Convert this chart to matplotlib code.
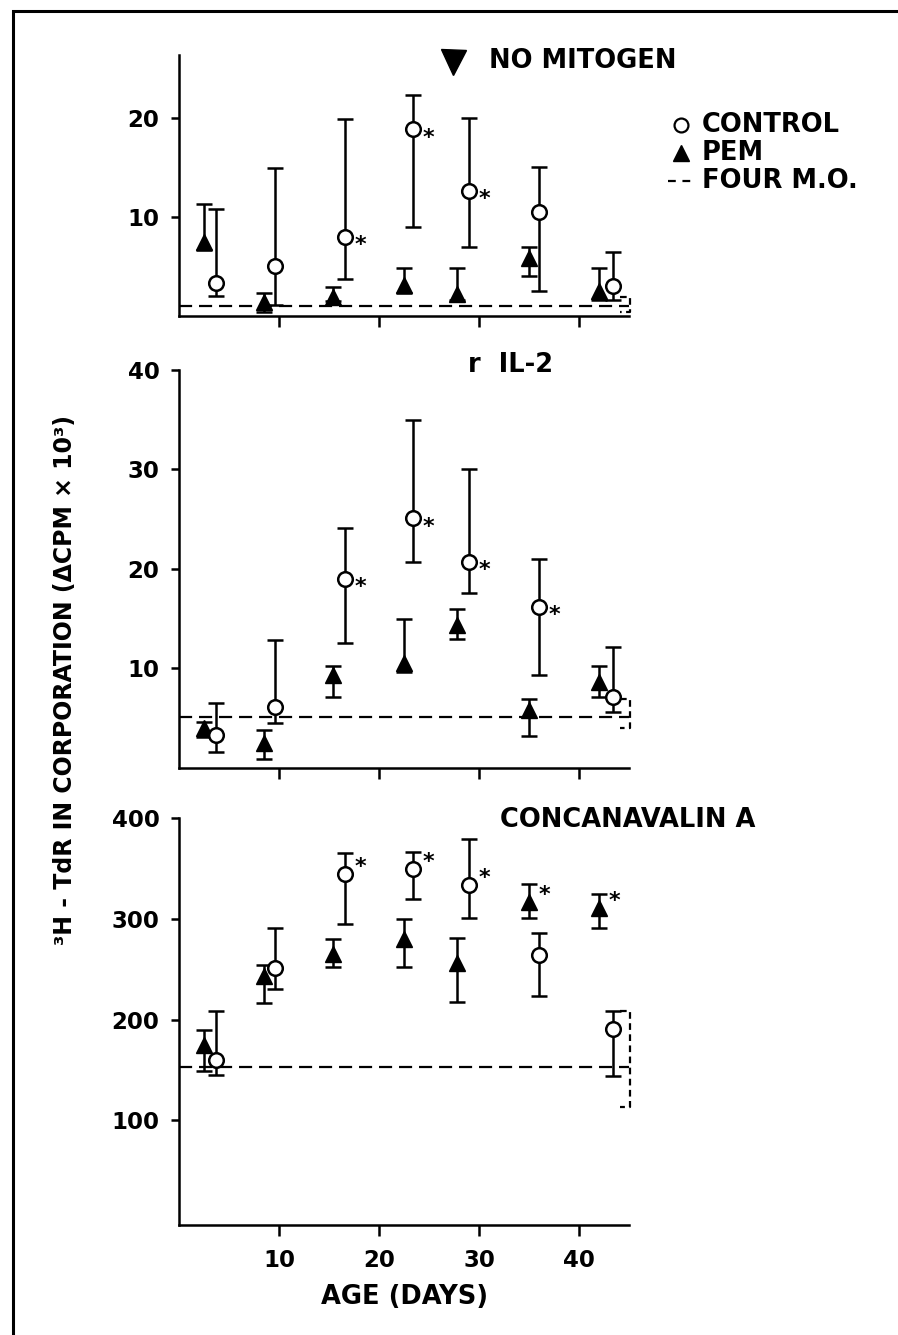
import matplotlib.pyplot as plt
import matplotlib.patches as mpatches
import numpy as np

plt.rcParams['font.family'] = ['DejaVu Sans']
plt.rcParams['font.weight'] = 'bold'

# ages (days) of the two groups
pem_age = np.array([2.5, 8.5, 15.4, 22.5, 27.8, 35.0, 42.0])
ctrl_age = np.array([3.7, 9.6, 16.6, 23.4, 29.0, 36.0, 43.4])

# no mitogen
pem_nm = np.array([7.5, 1.4, 1.9, 3.1, 2.2, 5.8, 2.5])
pem_nm_hi = np.array([11.3, 2.3, 2.9, 4.8, 4.8, 7.0, 4.8])
pem_nm_lo = np.array([6.6, 0.4, 1.5, 2.3, 1.6, 4.0, 1.6])
ctrl_nm = np.array([3.3, 5.0, 8.0, 18.8, 12.6, 10.5, 3.0])
ctrl_nm_hi = np.array([10.8, 14.9, 19.9, 22.3, 20.0, 15.0, 6.4])
ctrl_nm_lo = np.array([2.0, 1.1, 3.7, 9.0, 7.0, 2.5, 1.6])

# rIL-2
pem_il2 = np.array([4.0, 2.5, 9.3, 10.5, 14.4, 5.8, 8.6])
pem_il2_hi = np.array([4.6, 3.8, 10.2, 15.0, 16.0, 6.9, 10.2])
pem_il2_lo = np.array([3.1, 0.9, 7.1, 9.6, 13.0, 3.2, 7.1])
ctrl_il2 = np.array([3.3, 6.1, 19.0, 25.1, 20.7, 16.2, 7.1])
ctrl_il2_hi = np.array([6.5, 12.9, 24.1, 35.0, 30.0, 21.0, 12.1])
ctrl_il2_lo = np.array([1.6, 4.5, 12.5, 20.7, 17.6, 9.3, 5.6])

# concanavalin A
pem_cona = np.array([175, 243, 265, 280, 256, 317, 311])
pem_cona_hi = np.array([190, 254, 280, 300, 281, 335, 325])
pem_cona_lo = np.array([149, 217, 252, 252, 218, 301, 291])
ctrl_cona = np.array([160, 251, 345, 350, 334, 264, 191])
ctrl_cona_hi = np.array([209, 291, 366, 367, 379, 286, 209])
ctrl_cona_lo = np.array([145, 230, 295, 320, 301, 223, 144])

# significance marks
ctrl_sig_nm = [0, 0, 1, 1, 1, 0, 0]
ctrl_sig_il2 = [0, 0, 1, 1, 1, 1, 0]
ctrl_sig_cona = [0, 0, 1, 1, 1, 0, 0]
pem_sig_nm = [0, 0, 0, 0, 0, 0, 0]
pem_sig_il2 = [0, 0, 0, 0, 0, 0, 0]
pem_sig_cona = [0, 0, 0, 0, 0, 1, 1]

# four month old reference: mean and range
four_mo = [1.0, 5.1, 153]
four_mo_lo = [0.4, 4.0, 113]
four_mo_hi = [1.9, 6.9, 209]

fig = plt.figure(figsize=(8.98, 13.35), dpi=100)

# frame around the figure
fig.add_artist(mpatches.Rectangle((13/898, -0.05), 1.0, 1 - 11/1335 + 0.05,
                                  transform=fig.transFigure, fill=False, lw=2.2, ec='black'))

ax_top = fig.add_axes([0.1993, 0.7633, 0.5011, 0.1955])
ax_mid = fig.add_axes([0.1993, 0.4249, 0.5011, 0.2979])
ax_bot = fig.add_axes([0.1993, 1 - 1225/1335, 0.5011, (1225 - 818.3)/1335])


def panel(ax, c, c_lo, c_hi, p, p_lo, p_hi, c_sig, p_sig, k, ylim, yticks, star_dy):
    ax.errorbar(pem_age, p, yerr=[p - p_lo, p_hi - p], fmt='none', ecolor='black',
                elinewidth=1.8, capsize=5.5, capthick=1.8, zorder=2)
    ax.errorbar(ctrl_age, c, yerr=[c - c_lo, c_hi - c], fmt='none', ecolor='black',
                elinewidth=1.8, capsize=5.5, capthick=1.8, zorder=2)
    ax.plot(pem_age, p, '^', ms=11, color='black', zorder=4, clip_on=False)
    ax.plot(ctrl_age, c, 'o', ms=10.5, mfc='white', mec='black', mew=1.8, zorder=4, clip_on=False)
    for i in range(len(c)):
        if c_sig[i]:
            ax.annotate('*', (ctrl_age[i], c[i]), xytext=(7, star_dy), textcoords='offset points',
                        fontsize=16, ha='left', va='center')
        if p_sig[i]:
            ax.annotate('*', (pem_age[i], p[i]), xytext=(7, star_dy), textcoords='offset points',
                        fontsize=16, ha='left', va='center')
    ax.plot([0, 45], [four_mo[k], four_mo[k]], color='black', lw=1.6, dashes=(5.9, 3.1), zorder=1,
            clip_on=False)
    ax.plot([44.1, 45.1, 45.1, 44.1], [four_mo_hi[k], four_mo_hi[k], four_mo_lo[k], four_mo_lo[k]],
            color='black', lw=1.6, dashes=(3, 2), zorder=1, clip_on=False)
    ax.set_xlim(0, 45)
    ax.set_ylim(*ylim)
    ax.set_xticks([10, 20, 30, 40])
    ax.set_yticks(yticks)
    for s in ['top', 'right']:
        ax.spines[s].set_visible(False)
    for s in ['left', 'bottom']:
        ax.spines[s].set_linewidth(1.8)
    ax.tick_params(axis='y', direction='out', length=6, width=1.8, labelsize=16.5, pad=8)
    ax.tick_params(axis='x', direction='out', length=8, width=1.8, labelsize=16.5, pad=9)


panel(ax_top, ctrl_nm, ctrl_nm_lo, ctrl_nm_hi, pem_nm, pem_nm_lo, pem_nm_hi,
      ctrl_sig_nm, pem_sig_nm, 0, (0, 26.3), [10, 20], -6)
panel(ax_mid, ctrl_il2, ctrl_il2_lo, ctrl_il2_hi, pem_il2, pem_il2_lo, pem_il2_hi,
      ctrl_sig_il2, pem_sig_il2, 1, (0, 40), [10, 20, 30, 40], -6)
panel(ax_bot, ctrl_cona, ctrl_cona_lo, ctrl_cona_hi, pem_cona, pem_cona_lo, pem_cona_hi,
      ctrl_sig_cona, pem_sig_cona, 2, (-4, 400), [100, 200, 300, 400], 5)

ax_top.tick_params(labelbottom=False)
ax_mid.tick_params(labelbottom=False)

# panel titles
ax_top.plot([0.609], [0.975], 'v', ms=18, color='black', transform=ax_top.transAxes, clip_on=False)
ax_top.text(0.689, 0.977, 'NO MITOGEN', transform=ax_top.transAxes, fontsize=18.5,
            ha='left', va='center')
ax_mid.text(0.642, 1.013, 'r  IL-2', transform=ax_mid.transAxes, fontsize=18.5,
            ha='left', va='center')
ax_bot.text(0.713, 0.996, 'CONCANAVALIN A', transform=ax_bot.transAxes, fontsize=18.5,
            ha='left', va='center')

# legend
ax_top.plot([1.116], [0.732], 'o', ms=10, mfc='white', mec='black', mew=1.6,
            transform=ax_top.transAxes, clip_on=False)
ax_top.plot([1.116], [0.625], '^', ms=11, color='black', transform=ax_top.transAxes, clip_on=False)
ax_top.plot([1.087, 1.14], [0.517, 0.517], color='black', lw=1.6, dashes=(3.5, 3),
            transform=ax_top.transAxes, clip_on=False)
ax_top.text(1.162, 0.732, 'CONTROL', transform=ax_top.transAxes, fontsize=18.5, ha='left', va='center')
ax_top.text(1.162, 0.625, 'PEM', transform=ax_top.transAxes, fontsize=18.5, ha='left', va='center')
ax_top.text(1.162, 0.517, 'FOUR M.O.', transform=ax_top.transAxes, fontsize=18.5, ha='left', va='center')

fig.text(405/898, 1 - 1297/1335, 'AGE (DAYS)', fontsize=18.5, ha='center', va='center')
fig.text(65/898, 1 - 680/1335, '³H - TdR IN CORPORATION (ΔCPM × 10³)', fontsize=17,
         rotation=90, ha='center', va='center')

plt.savefig('out.png', dpi=100)
